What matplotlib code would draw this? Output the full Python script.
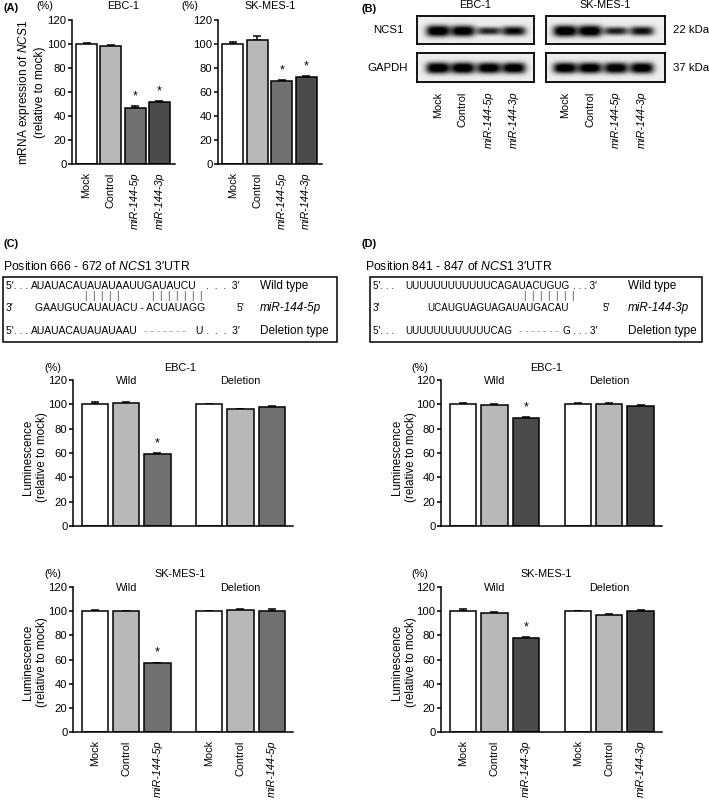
import numpy as np
import matplotlib
matplotlib.use('Agg')
import matplotlib.pyplot as plt
from matplotlib.patches import Rectangle

plt.rcParams['font.family'] = ['Liberation Sans', 'DejaVu Sans']
plt.rcParams['mathtext.fontset'] = 'custom'
plt.rcParams['mathtext.rm'] = 'Liberation Sans'
plt.rcParams['mathtext.it'] = 'Liberation Sans:italic'

W, H = 709, 800

# (A) NCS1 mRNA, % of mock
a_labels = ['Mock', 'Control', 'miR-144-5p', 'miR-144-3p']
a_ebc = [100.0, 98.5, 46.5, 52.0]
a_ebc_err = [1.0, 1.0, 1.5, 0.5]
a_sk = [100.0, 103.0, 69.0, 72.5]
a_sk_err = [1.5, 4.0, 1.0, 1.0]
a_star = [False, False, True, True]

# (B) western blot, relative band strength per lane
b_ncs1_ebc = [1.0, 0.95, 0.45, 0.7]
b_gapdh_ebc = [1.0, 1.0, 0.95, 0.95]
b_ncs1_sk = [1.0, 1.0, 0.5, 0.65]
b_gapdh_sk = [0.95, 0.95, 0.95, 0.95]

# (C) luciferase, miR-144-5p site
c_labels = ['Mock', 'Control', 'miR-144-5p'] * 2
c_ebc = [100.0, 101.5, 59.5, 100.0, 96.0, 98.0]
c_ebc_err = [2.0, 0.5, 0.5, 0.5, 0.5, 0.5]
c_sk = [100.0, 100.0, 57.0, 100.0, 101.0, 100.5]
c_sk_err = [1.0, 0.5, 0.5, 0.5, 0.7, 1.0]
c_star = [False, False, True, False, False, False]

# (D) luciferase, miR-144-3p site
d_labels = ['Mock', 'Control', 'miR-144-3p'] * 2
d_ebc = [100.0, 99.5, 89.0, 100.0, 100.5, 99.0]
d_ebc_err = [1.0, 0.5, 0.5, 1.0, 0.5, 0.7]
d_sk = [100.0, 98.5, 78.0, 100.0, 96.5, 100.5]
d_sk_err = [1.5, 0.5, 0.5, 0.5, 1.0, 0.3]
d_star = [False, False, True, False, False, False]

# target site sequences (wild / miRNA / deletion)
c_wild = 'AUAUACAUAUAUAAUUGAUAUCU'
c_mir = 'GAAUGUCAUAUACU - ACUAUAGG'
c_del_kept, c_del_end = 'AUAUACAUAUAUAAU', 'U'
d_wild = 'UUUUUUUUUUUUCAGAUACUGUG'
d_mir = 'UCAUGUAGUAGAUAUGACAU'
d_del_kept, d_del_end = 'UUUUUUUUUUUUCAG', 'G'

LIGHT, MID, DARK = '#b8b8b8', '#707070', '#4b4b4b'
FS = 7.8

fig = plt.figure(figsize=(W / 100, H / 100), dpi=100)


def add_ax(x0, y0, x1, y1):
    return fig.add_axes([x0 / W, 1 - y1 / H, (x1 - x0) / W, (y1 - y0) / H])


def bar_panel(ax, xs, vals, errs, colors, stars, labels, width, xlim):
    n = len(vals)
    ax.bar(xs, vals, width, color=colors, edgecolor='black', linewidth=1.1, zorder=2)
    ax.errorbar(xs, vals, yerr=[np.zeros(n), errs], fmt='none', ecolor='black',
                elinewidth=1.1, capsize=3, capthick=1.1, zorder=1)
    for x, v, e, s in zip(xs, vals, errs, stars):
        if s:
            ax.text(x, v + e + 8, '*', ha='center', va='center', fontsize=9)
    ax.set_ylim(0, 120)
    ax.set_xlim(*xlim)
    ax.set_yticks(range(0, 121, 20))
    for sp in ['top', 'right']:
        ax.spines[sp].set_visible(False)
    for sp in ['left', 'bottom']:
        ax.spines[sp].set_linewidth(1.1)
    ax.tick_params(axis='y', length=3, width=1.1, labelsize=FS + 0.3, pad=1)
    ax.tick_params(axis='x', length=0, pad=6)
    ax.set_xticks(xs)
    if labels:
        ax.set_xticklabels(labels, rotation=90, fontsize=FS)
        for lbl in ax.get_xticklabels():
            if lbl.get_text().startswith('miR'):
                lbl.set_style('italic')
    else:
        ax.set_xticklabels([])
    ax.patch.set_alpha(0)


def group_titles(ax):
    ax.text(1, 119, 'Wild', ha='center', va='center', fontsize=FS)
    ax.text(4.65, 119, 'Deletion', ha='center', va='center', fontsize=FS)


# (A)
xa = np.arange(4)
cols_a = ['white', LIGHT, MID, DARK]
ax = add_ax(72, 20, 175, 164)
bar_panel(ax, xa, a_ebc, a_ebc_err, cols_a, a_star, a_labels, 0.86, (-0.6, 3.64))
ax = add_ax(218, 20, 322, 164)
bar_panel(ax, xa, a_sk, a_sk_err, cols_a, a_star, a_labels, 0.86, (-0.6, 3.64))

# (C) and (D)
xc = np.concatenate([np.arange(3), np.arange(3) + 3.65])
lim_cd = (-0.7, 6.33)
ax = add_ax(73, 380, 293, 526)
bar_panel(ax, xc, c_ebc, c_ebc_err, ['white', LIGHT, MID] * 2, c_star, None, 0.84, lim_cd)
group_titles(ax)
ax = add_ax(73, 587, 293, 732)
bar_panel(ax, xc, c_sk, c_sk_err, ['white', LIGHT, MID] * 2, c_star, c_labels, 0.84, lim_cd)
group_titles(ax)
ax = add_ax(441, 380, 662, 526)
bar_panel(ax, xc, d_ebc, d_ebc_err, ['white', LIGHT, DARK] * 2, d_star, None, 0.84, lim_cd)
group_titles(ax)
ax = add_ax(441, 587, 662, 732)
bar_panel(ax, xc, d_sk, d_sk_err, ['white', LIGHT, DARK] * 2, d_star, d_labels, 0.84, lim_cd)
group_titles(ax)


# (B) blots
def blot(x0, y0, x1, y1, lanes, strengths, yc):
    ax = add_ax(x0, y0, x1, y1)
    xs = np.linspace(x0, x1, 360)
    ys = np.linspace(y0, y1, 120)
    X, Y = np.meshgrid(xs, ys)
    img = np.full(X.shape, 0.07)
    for lx, s in zip(lanes, strengths):
        half_h = 2.5 + 3.2 * s
        img += (0.55 + 0.55 * s) * np.exp(-np.abs((X - lx) / 12.0) ** 3.5) * np.exp(-np.abs((Y - yc) / half_h) ** 2.5)
    ax.imshow(np.clip(img, 0, 1), cmap='gray_r', vmin=0, vmax=1, extent=(x0, x1, y1, y0),
              aspect='auto', interpolation='bilinear')
    ax.set_xticks([])
    ax.set_yticks([])
    for sp in ax.spines.values():
        sp.set_linewidth(1.3)


lanes_ebc = [438, 463, 489, 514]
lanes_sk = [565, 590, 616, 642]
blot(417, 16, 534, 44, lanes_ebc, b_ncs1_ebc, 31)
blot(417, 53, 534, 82, lanes_ebc, b_gapdh_ebc, 68)
blot(546, 16, 665, 44, lanes_sk, b_ncs1_sk, 31)
blot(546, 53, 665, 82, lanes_sk, b_gapdh_sk, 68)

# overlay for free text and boxes
ov = fig.add_axes([0, 0, 1, 1], zorder=-1)
ov.set_xlim(0, W)
ov.set_ylim(H, 0)
ov.axis('off')


def t(x, y, s, ha='center', **kw):
    kw.setdefault('fontsize', FS)
    ov.text(x, y, s, ha=ha, va='center', **kw)


# panel letters
t(3, 8, '(A)', ha='left', fontweight='bold')
t(362, 9, '(B)', ha='left', fontweight='bold')
t(3, 244, '(C)', ha='left', fontweight='bold')
t(362, 244, '(D)', ha='left', fontweight='bold')

# (A) headers
t(45, 6, '(%)')
t(123, 6, 'EBC-1')
t(190, 6, '(%)')
t(270, 6, 'SK-MES-1')
t(31, 92, 'mRNA expression of $\\mathit{NCS1}$\n(relative to mock)', rotation=90,
  multialignment='center', fontsize=8.6)

# (B) labels
t(475, 5, 'EBC-1')
t(605, 5, 'SK-MES-1')
t(388, 30, 'NCS1', fontsize=8.2)
t(388, 68, 'GAPDH', fontsize=8.2)
t(673, 30, '22 kDa', ha='left', fontsize=8.2)
t(673, 68, '37 kDa', ha='left', fontsize=8.2)
for lx_list in (lanes_ebc, lanes_sk):
    for lx, lab in zip(lx_list, a_labels):
        ov.text(lx, 92, lab, rotation=90, ha='center', va='top', fontsize=FS,
                style='italic' if lab.startswith('miR') else 'normal')

LAB = 8.5
PAIR = dict(fontsize=7, color='#444444')


def seq_box(x0, x1, xseq, xend, xlab, xpairs, wild, mir, xmir, xmir5, mirname,
            kept, xgap, end, xdelend, fs, tail):
    ov.add_patch(Rectangle((x0, 277), x1 - x0, 65, fill=False, lw=1.1, ec='black'))
    # wild type
    t(x0 + 3, 286, '5\u2032. . .', ha='left', fontsize=fs)
    t(xseq, 286, wild, ha='left', fontsize=fs)
    t(xend, 286, tail, ha='right', fontsize=fs)
    t(xlab, 286, 'Wild type', ha='left', fontsize=LAB)
    for xp, n in xpairs:
        t(xp, 296, '  '.join('|' * n), ha='left', **PAIR)
    # miRNA
    t(x0 + 3, 308, '3\u2032', ha='left', fontsize=fs)
    t(xmir, 308, mir, ha='left', fontsize=fs)
    t(xmir5, 308, '5\u2032', ha='left', fontsize=fs)
    t(xlab, 308, mirname, ha='left', style='italic', fontsize=LAB)
    # deletion
    t(x0 + 3, 331, '5\u2032. . .', ha='left', fontsize=fs)
    t(xseq, 331, kept, ha='left', fontsize=fs)
    t(xgap, 331, ' '.join('-' * 7), ha='left', fontsize=fs, color='#888888')
    t(xdelend, 331, end + ' ' + tail, ha='right', fontsize=fs)
    t(xlab, 331, 'Deletion type', ha='left', fontsize=LAB)


t(3, 266, 'Position 666 - 672 of $\\mathit{NCS1}$ 3\u2032UTR', ha='left', fontsize=8.8)
seq_box(3, 337, 31, 240, 260, [(85, 5), (152, 7)], c_wild, c_mir, 35, 237, 'miR-144-5p',
        c_del_kept, 144, c_del_end, 240, 7.5, '.  .  .  3\u2032')

t(365, 266, 'Position 841 - 847 of $\\mathit{NCS1}$ 3\u2032UTR', ha='left', fontsize=8.8)
seq_box(370, 702, 405, 597, 628, [(524, 7)], d_wild, d_mir, 427, 603, 'miR-144-3p',
        d_del_kept, 519, d_del_end, 597, 7.1, '. . . 3\u2032')

# (C)/(D) chart headers and y labels
for xp, xt, xy in ((53, 180, 35), (420, 546, 404)):
    t(xp, 368, '(%)')
    t(xt, 368, 'EBC-1')
    t(xp, 574, '(%)')
    t(xt, 574, 'SK-MES-1')
    t(xy, 457, 'Luminescence\n(relative to mock)', rotation=90, multialignment='center', fontsize=8.4)
    t(xy, 662, 'Luminescence\n(relative to mock)', rotation=90, multialignment='center', fontsize=8.4)

fig.savefig('out.png', dpi=100)
